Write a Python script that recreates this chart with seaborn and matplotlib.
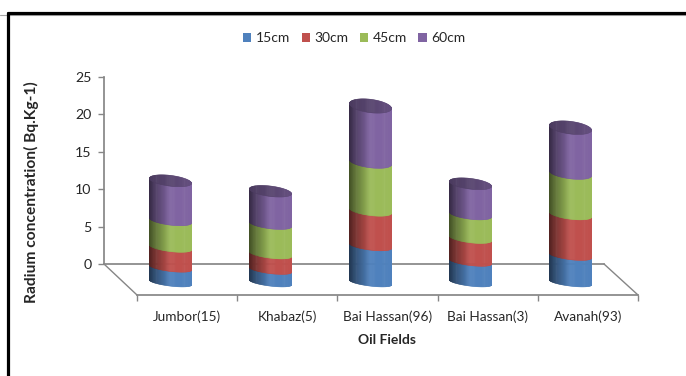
import numpy as np
import matplotlib
matplotlib.use("Agg")
import matplotlib.pyplot as plt
from matplotlib.collections import PolyCollection
from matplotlib.lines import Line2D
from matplotlib.patches import Rectangle
import seaborn as sns

fields = ["Jumbor(15)", "Khabaz(5)", "Bai Hassan(96)", "Bai Hassan(3)", "Avanah(93)"]
depths = ["15cm", "30cm", "45cm", "60cm"]
depth_15 = [2.0, 1.7, 4.9, 2.8, 3.6]
depth_30 = [2.7, 2.1, 4.7, 3.1, 5.5]
depth_45 = [3.6, 4.0, 6.5, 3.2, 5.5]
depth_60 = [5.3, 4.4, 7.5, 4.1, 6.1]
colors = ["#4F81BD", "#C0504D", "#9BBB59", "#8064A2"]
y_ticks = [0, 5, 10, 15, 20, 25]

sns.set_theme(style="white")
plt.rcParams["font.family"] = ["Lato", "DejaVu Sans"]
TEXT = "#262626"
AXIS = "#868686"

W, H = 686, 376
fig = plt.figure(figsize=(W / 100, H / 100), dpi=100, facecolor="white")


def axes_from_pixels(x0, y0, x1, y1):
    """Axes whose corners are given in pixels from the top-left of the figure."""
    return fig.add_axes([x0 / W, 1 - y1 / H, (x1 - x0) / W, (y1 - y0) / H])


# Back wall of the 3D box: carries the value scale and the cylinders.
ax = axes_from_pixels(104, 77, 604, 264)
ax.set_xlim(0, 5)
ax.set_ylim(0, 25)
ax.patch.set_alpha(0)
sns.despine(ax=ax, top=True, right=True)
ax.spines["left"].set_color(AXIS)
ax.spines["bottom"].set_color(AXIS)
ax.set_xticks([])
ax.set_yticks(y_ticks)
ax.tick_params(axis="y", left=True, length=4, width=1, color=AXIS, labelsize=10.2,
               labelcolor=TEXT, pad=5)

# Front edge of the floor: carries the category scale.
front = axes_from_pixels(137, 264, 638, 295)
front.set_xlim(0, 5)
front.patch.set_alpha(0)
front.set_yticks([])
for side in ("top", "left", "right"):
    front.spines[side].set_visible(False)
front.spines["bottom"].set_color(AXIS)
front.set_xticks(range(6))
front.set_xticklabels([])
front.set_xticks(np.arange(5) + 0.5, labels=fields, minor=True)
front.tick_params(axis="x", which="major", bottom=True, length=4, width=1, color=AXIS)
front.tick_params(axis="x", which="minor", bottom=False, labelsize=9.8,
                  labelcolor=TEXT, pad=7)
front.set_xlabel("Oil Fields", fontsize=10, fontweight="bold", color=TEXT, labelpad=8)

# Sides of the floor in wall coordinates (one x unit = 100 px, one y unit = 7.48 px).
PX = 7.48
DX, DY = 0.33, -31 / PX
ax.plot([0, DX], [0, DY], color=AXIS, lw=1, clip_on=False)
ax.plot([5, 5 + DX + 0.01], [0, DY], color=AXIS, lw=1, clip_on=False)

# Cylinder geometry, in wall coordinates; cylinders stand halfway across the floor.
RX = 0.21
TILT = 2.5 / PX
BASE = -18.5 / PX
STRIPS = 60


def rim_height(h):
    """Half height of an ellipse; rims open up slightly the higher they sit."""
    return (3.6 + 0.13 * h) / PX


def shade(hex_color, u):
    """Darken towards the left side of the cylinder, u running from 0 to 1."""
    rgb = np.array(matplotlib.colors.to_rgb(hex_color))
    k = 0.42 + 0.58 * min(u / 0.5, 1) ** 0.9
    return tuple(rgb * k)


def front_arc(x_rel, h):
    """Vertical offset of the near rim of the tilted ellipse at a relative x."""
    c = np.clip(x_rel, -1, 1)
    return -rim_height(h) * np.sqrt(1 - c ** 2) - TILT * c


def back_arc(x_rel, h):
    c = np.clip(x_rel, -1, 1)
    return rim_height(h) * np.sqrt(1 - c ** 2) - TILT * c


def draw_segment(cx, h0, h1, color):
    edges = -np.cos(np.linspace(0, np.pi, STRIPS + 1))
    v0, v1 = BASE + h0, BASE + h1
    polys, cols = [], []
    for i in range(STRIPS):
        a, b = edges[i], edges[i + 1]
        polys.append([(cx + a * RX, v0 + front_arc(a, h0)), (cx + b * RX, v0 + front_arc(b, h0)),
                      (cx + b * RX, v1 + front_arc(b, h1)), (cx + a * RX, v1 + front_arc(a, h1))])
        cols.append(shade(color, (a + b) / 4 + 0.5))
    ax.add_collection(PolyCollection(polys, facecolors=cols, edgecolors=cols,
                                     linewidths=0.4, clip_on=False, zorder=3))


def draw_cap(cx, h, color):
    edges = -np.cos(np.linspace(0, np.pi, STRIPS + 1))
    v = BASE + h
    polys, cols = [], []
    rgb = np.array(matplotlib.colors.to_rgb(color))
    for i in range(STRIPS):
        a, b = edges[i], edges[i + 1]
        polys.append([(cx + a * RX, v + front_arc(a, h)), (cx + b * RX, v + front_arc(b, h)),
                      (cx + b * RX, v + back_arc(b, h)), (cx + a * RX, v + back_arc(a, h))])
        u = (a + b) / 4 + 0.5
        cols.append(tuple(rgb * (0.58 + 0.2 * u)))
    ax.add_collection(PolyCollection(polys, facecolors=cols, edgecolors=cols,
                                     linewidths=0.4, clip_on=False, zorder=4))


stacks = np.array([depth_15, depth_30, depth_45, depth_60])
tops = np.cumsum(stacks, axis=0)
for i in range(len(fields)):
    cx = i + 0.5 + DX / 2
    bottom = 0.0
    for j, color in enumerate(colors):
        top = tops[j, i]
        draw_segment(cx, bottom, top, color)
        bottom = top
    draw_cap(cx, bottom, colors[-1])

# Legend along the top of the chart.
handles = [Rectangle((0, 0), 1, 1, facecolor=c, edgecolor="none") for c in colors]
fig.legend(handles, depths, ncol=4, loc="center", bbox_to_anchor=(354 / W, 1 - 38 / H),
           frameon=False, fontsize=10, labelcolor=TEXT, handlelength=0.6, handleheight=0.6,
           handletextpad=0.3, columnspacing=0.85)

fig.text(31 / W, 1 - 192 / H, "Radium concentration( Bq.Kg-1)", rotation=90, ha="center",
         va="center", fontsize=11.2, fontweight="bold", color=TEXT)

# Heavy rules along the top and left of the image, with a faint shadow under the top one.
fig.add_artist(Line2D([0, 1], [1 - 14.8 / H] * 2, color="#a6a6a6", lw=0.8,
                      transform=fig.transFigure))
fig.add_artist(Line2D([7.5 / W, 7.5 / W], [0, 1 - 12.5 / H], color="black", lw=2.3,
                      transform=fig.transFigure))
fig.add_artist(Line2D([7.5 / W, 1], [1 - 12.7 / H] * 2, color="black", lw=2.3,
                      transform=fig.transFigure))

fig.savefig("out.png", dpi=100, facecolor="white")
